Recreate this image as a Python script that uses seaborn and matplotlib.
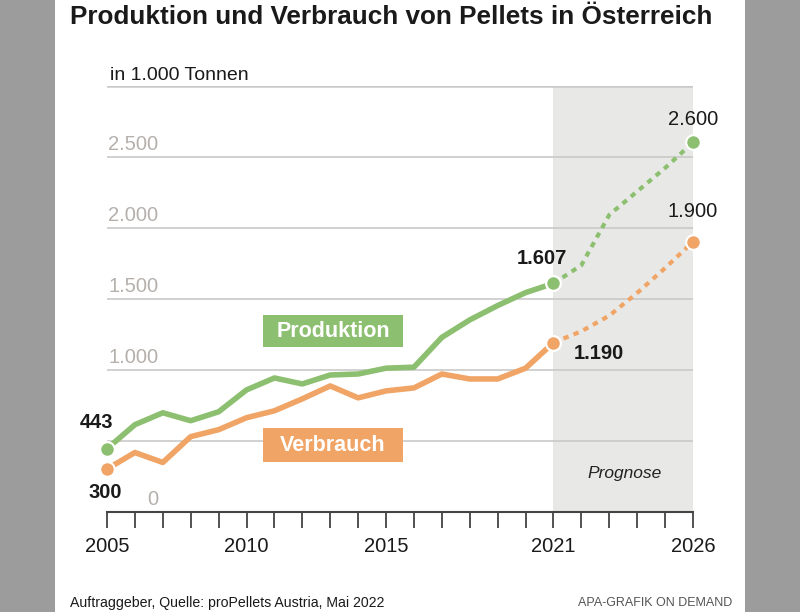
import numpy as np
import pandas as pd
import matplotlib
matplotlib.use("Agg")
import matplotlib.pyplot as plt
from matplotlib.patches import Rectangle
import seaborn as sns

# Data (1.000 Tonnen)
years_hist = [2005, 2006, 2007, 2008, 2009, 2010, 2011, 2012, 2013, 2014, 2015, 2016, 2017, 2018, 2019, 2020, 2021]
prod_hist = [443, 612, 696, 640, 703, 857, 941, 899, 962, 969, 1010, 1017, 1227, 1350, 1451, 1542, 1607]
cons_hist = [300, 416, 346, 528, 577, 661, 710, 794, 885, 801, 850, 871, 969, 934, 934, 1010, 1190]

years_fc = [2021, 2022, 2023, 2024, 2025, 2026]
prod_fc = [1607, 1735, 2090, 2255, 2420, 2600]
cons_fc = [1190, 1270, 1380, 1540, 1715, 1900]

y_ticks = [0, 500, 1000, 1500, 2000, 2500, 3000]
y_labels = ["0", "", "1.000", "1.500", "2.000", "2.500", ""]
x_ticklabels = {2005: "2005", 2010: "2010", 2015: "2015", 2021: "2021", 2026: "2026"}

GREEN = "#8cc070"
ORANGE = "#f0a465"
SHADE = "#e8e8e6"
GRID = "#c9c9c9"

sns.set_theme(style="white")
plt.rcParams["font.family"] = ["Liberation Sans", "DejaVu Sans"]

fig = plt.figure(figsize=(8, 6.12), dpi=100, facecolor="#9c9c9c")
fig.patches.append(Rectangle((55 / 800, 0), 690 / 800, 1, transform=fig.transFigure,
                             facecolor="white", edgecolor="none", zorder=-10))

ax = fig.add_axes([107 / 800, 1 - 511.6 / 612, 586 / 800, 426 / 612])
ax.set_zorder(2)
ax.set_facecolor("none")
ax.set_xlim(2005, 2026)
ax.set_ylim(0, 3000)

# Prognose region
ax.axvspan(2021, 2026, color=SHADE, zorder=0, lw=0)

# gridlines
for v in y_ticks[1:]:
    ax.axhline(v, color=GRID, lw=1.2 if v < 3000 else 1.8, zorder=1)
for v, lab in zip(y_ticks, y_labels):
    if lab:
        ax.text(2006.85, v + 15, lab, ha="right", va="bottom", fontsize=14.5, color="#b5b0ab", zorder=2)

hist = pd.DataFrame({"Jahr": years_hist, "Produktion": prod_hist, "Verbrauch": cons_hist})
fc = pd.DataFrame({"Jahr": years_fc, "Produktion": prod_fc, "Verbrauch": cons_fc})

sns.lineplot(data=hist, x="Jahr", y="Produktion", color=GREEN, lw=4, ax=ax, zorder=4)
sns.lineplot(data=hist, x="Jahr", y="Verbrauch", color=ORANGE, lw=4, ax=ax, zorder=4)
sns.lineplot(data=fc, x="Jahr", y="Produktion", color=GREEN, lw=3, ax=ax, zorder=3,
             linestyle=(0, (1.3, 1.3)))
sns.lineplot(data=fc, x="Jahr", y="Verbrauch", color=ORANGE, lw=3, ax=ax, zorder=3,
             linestyle=(0, (1.3, 1.3)))

# end point markers
for xs, ys, col in [(years_hist, prod_hist, GREEN), (years_hist, cons_hist, ORANGE),
                    (years_fc, prod_fc, GREEN), (years_fc, cons_fc, ORANGE)]:
    ax.scatter([xs[0], xs[-1]], [ys[0], ys[-1]], s=110, color=col, edgecolor="white",
               linewidth=1.5, zorder=5, clip_on=False)

# value labels
lab_kw = dict(textcoords="offset pixels", ha="center", va="center", color="#1a1a1a", fontsize=14.5)
ax.annotate("443", (2005, prod_hist[0]), xytext=(-11, 26), fontweight="bold", **lab_kw)
ax.annotate("300", (2005, cons_hist[0]), xytext=(-2, -23), fontweight="bold", **lab_kw)
ax.annotate("1.607", (2021, prod_hist[-1]), xytext=(-12, 25), fontweight="bold", **lab_kw)
ax.annotate("1.190", (2021, cons_hist[-1]), xytext=(45, -11), fontweight="bold", **lab_kw)
ax.annotate("2.600", (2026, prod_fc[-1]), xytext=(0, 23), **lab_kw)
ax.annotate("1.900", (2026, cons_fc[-1]), xytext=(0, 30), **lab_kw)

# series name boxes
for y0, y1, col, name in [(1159, 1384, GREEN, "Produktion"), (349, 588, ORANGE, "Verbrauch")]:
    ax.add_patch(Rectangle((2010.59, y0), 5.02, y1 - y0, facecolor=col, edgecolor="none", zorder=6))
    ax.text(2013.1, (y0 + y1) / 2, name, ha="center", va="center", fontsize=15.5,
            fontweight="bold", color="white", zorder=7)

ax.text(2023.55, 270, "Prognose", ha="center", va="center", fontsize=12.5, style="italic", color="#222222")

# axes styling
for s in ["top", "right", "left"]:
    ax.spines[s].set_visible(False)
ax.spines["bottom"].set_color("#444444")
ax.spines["bottom"].set_linewidth(1.5)
ax.set_xticks(range(2005, 2027))
ax.set_xticklabels([x_ticklabels.get(y, "") for y in range(2005, 2027)])
ax.tick_params(axis="x", direction="out", length=11.5, width=1.3, color="#444444",
               labelsize=14.5, labelcolor="#1a1a1a", pad=7, bottom=True)
ax.set_yticks([])
ax.set_xlabel("")
ax.set_ylabel("")

# titles and footer
fig.text(70 / 800, 1 - 17 / 612, "Produktion und Verbrauch von Pellets in Österreich",
         ha="left", va="center", fontsize=18.8, fontweight="bold", color="#1a1a1a")
fig.text(110 / 800, 1 - 75 / 612, "in 1.000 Tonnen", ha="left", va="center", fontsize=14, color="#1a1a1a")
fig.text(70 / 800, 1 - 603 / 612, "Auftraggeber, Quelle: proPellets Austria, Mai 2022",
         ha="left", va="center", fontsize=10.2, color="#1a1a1a")
fig.text(732 / 800, 1 - 603 / 612, "APA-GRAFIK ON DEMAND", ha="right", va="center",
         fontsize=9, color="#555555")

fig.savefig("out.png", dpi=100, facecolor=fig.get_facecolor())
